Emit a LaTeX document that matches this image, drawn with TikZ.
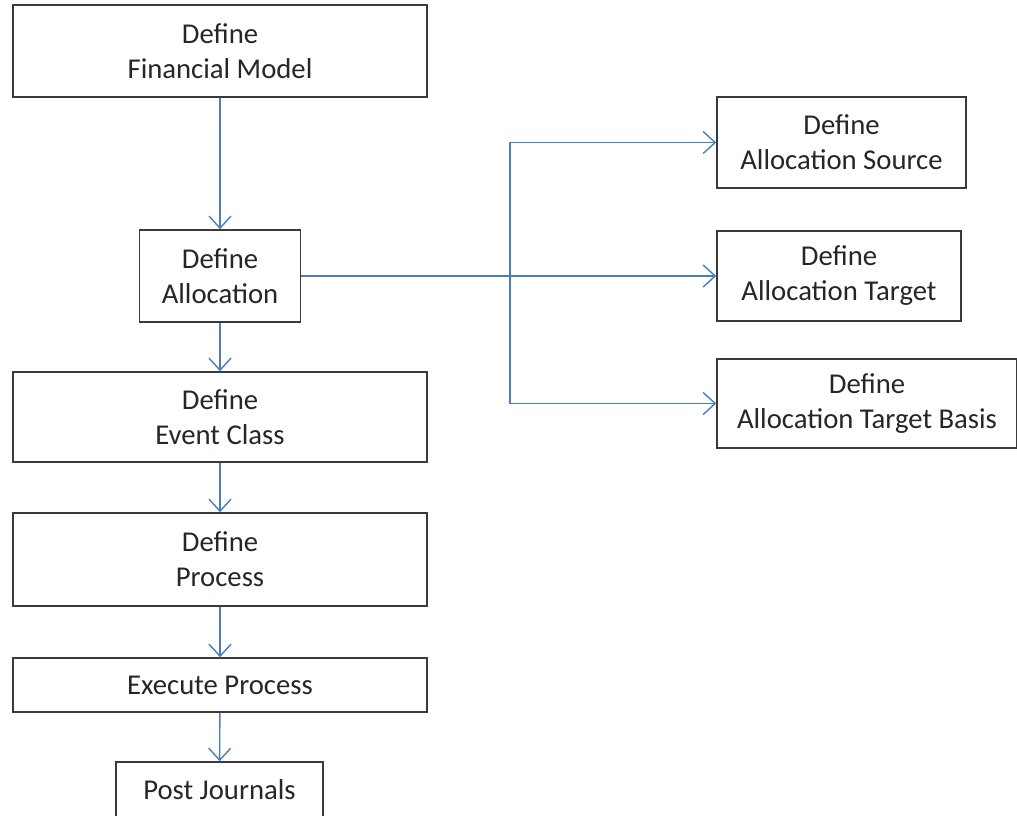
\documentclass[tikz,border=0pt]{standalone}
\usepackage{fontspec}
\setmainfont{Carlito}
\usetikzlibrary{arrows.meta}
\definecolor{boxline}{HTML}{3A3A3A}
\definecolor{flowblue}{HTML}{4A7EBB}
\definecolor{textgray}{HTML}{262626}
\begin{document}
\begin{tikzpicture}[x=1pt,y=-1pt,
  stepbox/.style={draw=boxline, line width=1.6pt, fill=white, inner sep=0pt,
    align=center, text=textgray,
    font=\fontsize{28.7}{35}\selectfont},
  conn/.style={draw=flowblue, line width=1.4pt,
    -{Straight Barb[length=12pt,width=22pt,line width=1.4pt]}},
  wire/.style={draw=flowblue, line width=1.4pt}]
\useasboundingbox (0,0) rectangle (1017,816);
\clip (0,0) rectangle (1017,816);

% main column
\node[stepbox, minimum width=414pt, minimum height=92pt] (fin) at (220,51) {Define\\Financial Model};
\node[stepbox, minimum width=161pt, minimum height=92pt] (alloc) at (220,276) {Define\\Allocation};
\node[stepbox, minimum width=414pt, minimum height=90pt] (event) at (220,417) {Define\\Event Class};
\node[stepbox, minimum width=414pt, minimum height=93pt] (proc) at (220,559.5) {Define\\Process};
\node[stepbox, minimum width=414pt, minimum height=54pt] (exec) at (220,685) {Execute Process};
\node[stepbox, minimum width=207pt, minimum height=56pt] (post) at (219.5,790) {Post Journals};

% allocation details
\node[stepbox, minimum width=249pt, minimum height=91pt] (source) at (841.5,142.5) {Define\\Allocation Source};
\node[stepbox, minimum width=244pt, minimum height=90pt] (target) at (839,276) {Define\\Allocation Target};
\node[stepbox, minimum width=300pt, minimum height=89pt] (basis) at (867,403.5) {Define\\Allocation Target Basis};

% flow of the main column
\draw[conn] (fin) -- (alloc);
\draw[conn] (alloc) -- (event);
\draw[conn] (event) -- (proc);
\draw[conn] (proc) -- (exec);
\draw[conn] (exec) -- (post);

% branch from allocation to its details
\coordinate (junction) at (510,276);
\draw[conn] (alloc.east) -- (target.west);
\draw[conn] (junction) |- (source.west);
\draw[conn] (junction) |- (basis.west);
\end{tikzpicture}
\end{document}
